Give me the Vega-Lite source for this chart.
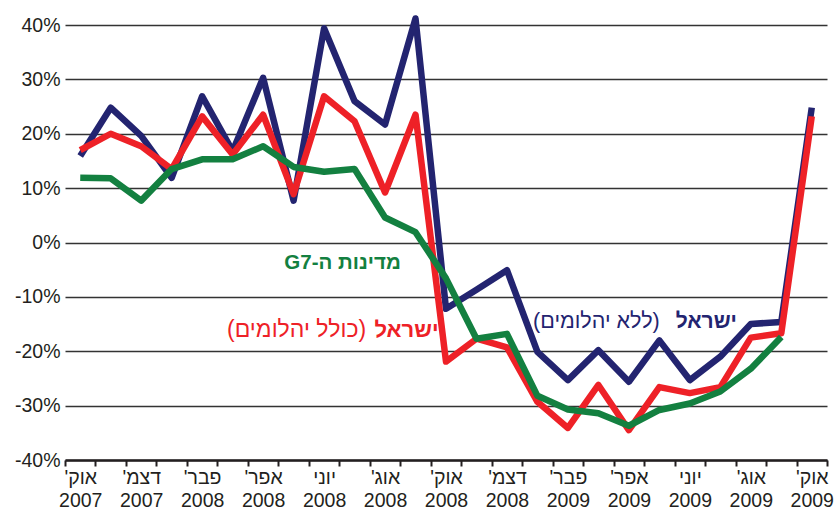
{
  "$schema": "https://vega.github.io/schema/vega-lite/v6.json",
  "width": 762,
  "height": 435,
  "autosize": "none",
  "padding": {"left": 65, "top": 25, "right": 9, "bottom": 50},
  "background": "white",
  "config": {
    "font": "Liberation Sans",
    "view": {"stroke": null},
    "axis": {"labelFont": "Liberation Sans", "labelColor": "#231f20", "labelFontSize": 19.5}
  },
  "datasets": {
    "series": [
      {"month": "2007-10", "s": "blue", "v": 15.9}, {"month": "2007-11", "s": "blue", "v": 24.8}, {"month": "2007-12", "s": "blue", "v": 19.6},
      {"month": "2008-01", "s": "blue", "v": 11.9}, {"month": "2008-02", "s": "blue", "v": 26.9}, {"month": "2008-03", "s": "blue", "v": 16.8},
      {"month": "2008-04", "s": "blue", "v": 30.3}, {"month": "2008-05", "s": "blue", "v": 7.7}, {"month": "2008-06", "s": "blue", "v": 39.4},
      {"month": "2008-07", "s": "blue", "v": 26.0}, {"month": "2008-08", "s": "blue", "v": 21.7}, {"month": "2008-09", "s": "blue", "v": 41.2},
      {"month": "2008-10", "s": "blue", "v": -12.2}, {"month": "2008-11", "s": "blue", "v": -8.7}, {"month": "2008-12", "s": "blue", "v": -5.1},
      {"month": "2009-01", "s": "blue", "v": -20.1}, {"month": "2009-02", "s": "blue", "v": -25.3}, {"month": "2009-03", "s": "blue", "v": -19.8},
      {"month": "2009-04", "s": "blue", "v": -25.6}, {"month": "2009-05", "s": "blue", "v": -18.0}, {"month": "2009-06", "s": "blue", "v": -25.3},
      {"month": "2009-07", "s": "blue", "v": -21.0}, {"month": "2009-08", "s": "blue", "v": -15.0}, {"month": "2009-09", "s": "blue", "v": -14.6},
      {"month": "2009-10", "s": "blue", "v": 24.8},
      {"month": "2007-10", "s": "red", "v": 17.0}, {"month": "2007-11", "s": "red", "v": 20.0}, {"month": "2007-12", "s": "red", "v": 17.7},
      {"month": "2008-01", "s": "red", "v": 13.5}, {"month": "2008-02", "s": "red", "v": 23.2}, {"month": "2008-03", "s": "red", "v": 16.2},
      {"month": "2008-04", "s": "red", "v": 23.5}, {"month": "2008-05", "s": "red", "v": 8.9}, {"month": "2008-06", "s": "red", "v": 26.9},
      {"month": "2008-07", "s": "red", "v": 22.3}, {"month": "2008-08", "s": "red", "v": 9.2}, {"month": "2008-09", "s": "red", "v": 23.5},
      {"month": "2008-10", "s": "red", "v": -21.9}, {"month": "2008-11", "s": "red", "v": -17.7}, {"month": "2008-12", "s": "red", "v": -19.3},
      {"month": "2009-01", "s": "red", "v": -29.3}, {"month": "2009-02", "s": "red", "v": -34.1}, {"month": "2009-03", "s": "red", "v": -26.2},
      {"month": "2009-04", "s": "red", "v": -34.5}, {"month": "2009-05", "s": "red", "v": -26.6}, {"month": "2009-06", "s": "red", "v": -27.7},
      {"month": "2009-07", "s": "red", "v": -26.6}, {"month": "2009-08", "s": "red", "v": -17.5}, {"month": "2009-09", "s": "red", "v": -16.7},
      {"month": "2009-10", "s": "red", "v": 23.2},
      {"month": "2007-10", "s": "green", "v": 11.9}, {"month": "2007-11", "s": "green", "v": 11.8}, {"month": "2007-12", "s": "green", "v": 7.7},
      {"month": "2008-01", "s": "green", "v": 13.5}, {"month": "2008-02", "s": "green", "v": 15.3}, {"month": "2008-03", "s": "green", "v": 15.3},
      {"month": "2008-04", "s": "green", "v": 17.7}, {"month": "2008-05", "s": "green", "v": 13.9}, {"month": "2008-06", "s": "green", "v": 13.0},
      {"month": "2008-07", "s": "green", "v": 13.5}, {"month": "2008-08", "s": "green", "v": 4.6}, {"month": "2008-09", "s": "green", "v": 1.9},
      {"month": "2008-10", "s": "green", "v": -6.6}, {"month": "2008-11", "s": "green", "v": -17.7}, {"month": "2008-12", "s": "green", "v": -16.8},
      {"month": "2009-01", "s": "green", "v": -28.2}, {"month": "2009-02", "s": "green", "v": -30.7}, {"month": "2009-03", "s": "green", "v": -31.4},
      {"month": "2009-04", "s": "green", "v": -33.7}, {"month": "2009-05", "s": "green", "v": -30.8}, {"month": "2009-06", "s": "green", "v": -29.6},
      {"month": "2009-07", "s": "green", "v": -27.4}, {"month": "2009-08", "s": "green", "v": -23.2}, {"month": "2009-09", "s": "green", "v": -17.4}
    ],
    "labels": [
      {"id": "b1", "month": "2009-07", "v": -14.7, "s": "blue", "text": "ישראל"},
      {"id": "b2", "month": "2009-03", "v": -14.7, "s": "blue", "text": "(ללא יהלומים)"},
      {"id": "r1", "month": "2008-09", "v": -16.1, "s": "red", "text": "ישראל"},
      {"id": "r2", "month": "2008-05", "v": -16.1, "s": "red", "text": "(כולל יהלומים)"},
      {"id": "g1", "month": "2008-07", "v": -3.7, "s": "green", "text": "\u202bמדינות ה-G7\u202c"}
    ]
  },
  "layer": [
    {
      "data": {"name": "series"},
      "mark": {"type": "line", "strokeWidth": 6.5, "strokeJoin": "round", "strokeCap": "butt"},
      "encoding": {
        "x": {
          "field": "month", "type": "ordinal", "sort": null,
          "scale": {"type": "band", "paddingInner": 0, "paddingOuter": 0},
          "axis": {
            "title": null, "labelAngle": 0, "tickBand": "extent", "ticks": true, "tickSize": 6, "tickWidth": 2,
            "tickColor": "#231f20", "domain": true, "domainColor": "#231f20", "domainWidth": 2.5,
            "grid": false, "labelOverlap": false, "labelLineHeight": 23, "labelPadding": 2, "labelBaseline": "top",
            "labelExpr": "toNumber(substring(datum.value,5,7)) % 2 == 0 ? [[\"ינו'\", \"פבר'\", \"מרץ\", \"אפר'\", \"מאי\", \"יוני\", \"יולי\", \"אוג'\", \"ספט'\", \"אוק'\", \"נוב'\", \"דצמ'\"][toNumber(substring(datum.value,5,7)) - 1] + '\u200F', substring(datum.value,0,4)] : ''"
          }
        },
        "y": {
          "field": "v", "type": "quantitative",
          "scale": {"domain": [-40, 40], "nice": false, "zero": false},
          "axis": {
            "title": null, "values": [-40, -30, -20, -10, 0, 10, 20, 30, 40], "domain": false, "ticks": false,
            "grid": true, "gridColor": "#333333", "gridWidth": 1.5, "labelPadding": 5,
            "labelExpr": "datum.value + '%'"
          }
        },
        "color": {
          "field": "s", "type": "nominal", "legend": null,
          "scale": {"domain": ["blue", "red", "green"], "range": ["#232470", "#ee2127", "#138040"]}
        }
      }
    },
    {
      "data": {"name": "labels"},
      "transform": [{"filter": "datum.id == 'b1'"}],
      "mark": {"type": "text", "fontSize": 21, "fontWeight": "bold", "align": "center", "baseline": "middle", "dx": -14, "color": "#232470"},
      "encoding": {"x": {"field": "month", "type": "ordinal", "sort": null}, "y": {"field": "v", "type": "quantitative"}, "text": {"field": "text"}}
    },
    {
      "data": {"name": "labels"},
      "transform": [{"filter": "datum.id == 'b2'"}],
      "mark": {"type": "text", "fontSize": 21.5, "align": "center", "baseline": "middle", "dx": -2, "color": "#232470"},
      "encoding": {"x": {"field": "month", "type": "ordinal", "sort": null}, "y": {"field": "v", "type": "quantitative"}, "text": {"field": "text"}}
    },
    {
      "data": {"name": "labels"},
      "transform": [{"filter": "datum.id == 'r1'"}],
      "mark": {"type": "text", "fontSize": 22, "fontWeight": "bold", "align": "center", "baseline": "middle", "dx": -9, "color": "#ee2127"},
      "encoding": {"x": {"field": "month", "type": "ordinal", "sort": null}, "y": {"field": "v", "type": "quantitative"}, "text": {"field": "text"}}
    },
    {
      "data": {"name": "labels"},
      "transform": [{"filter": "datum.id == 'r2'"}],
      "mark": {"type": "text", "fontSize": 23, "align": "center", "baseline": "middle", "dx": 3, "color": "#ee2127"},
      "encoding": {"x": {"field": "month", "type": "ordinal", "sort": null}, "y": {"field": "v", "type": "quantitative"}, "text": {"field": "text"}}
    },
    {
      "data": {"name": "labels"},
      "transform": [{"filter": "datum.id == 'g1'"}],
      "mark": {"type": "text", "fontSize": 20.5, "fontWeight": "bold", "align": "center", "baseline": "middle", "dx": -12, "color": "#138040"},
      "encoding": {"x": {"field": "month", "type": "ordinal", "sort": null}, "y": {"field": "v", "type": "quantitative"}, "text": {"field": "text"}}
    }
  ]
}
